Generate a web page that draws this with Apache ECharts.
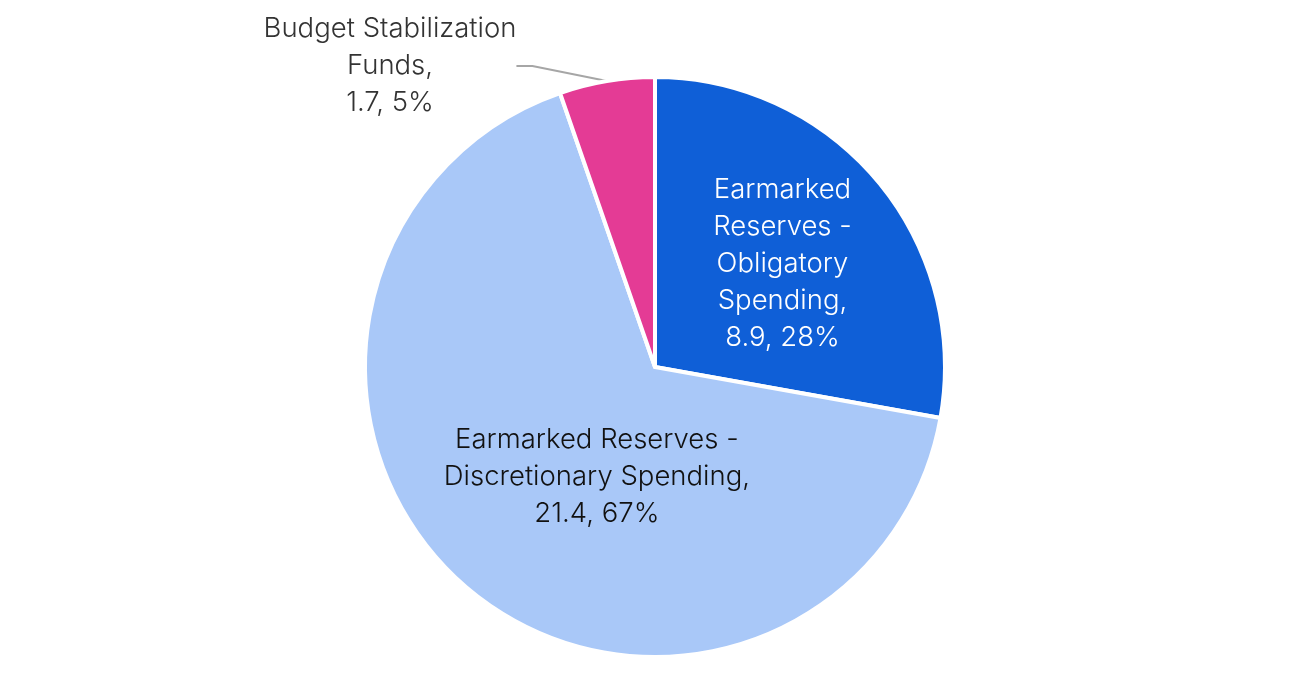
<!DOCTYPE html>
<html>
<head>
<meta charset="utf-8">
<script src="https://cdn.jsdelivr.net/npm/echarts@6/dist/echarts.min.js"></script>
<style>
html,body{margin:0;padding:0;background:#fff;}
#chart{width:1300px;height:681px;}
</style>
</head>
<body>
<div id="chart"></div>
<script>
const categories = [
  'Earmarked\nReserves -\nObligatory\nSpending',
  'Earmarked Reserves -\nDiscretionary Spending',
  'Budget Stabilization\nFunds'
];
const values = [8.9, 21.4, 1.7];
const colors = ['#0F5FD7', '#A9C8F8', '#E43B95'];
const labelColors = ['#ffffff', '#111111', '#333333'];

const chart = echarts.init(document.getElementById('chart'));
const total = values.reduce((a, b) => a + b, 0);
const data = categories.map((c, i) => ({
  name: c,
  value: values[i],
  itemStyle: { color: colors[i] },
  label: {
    color: labelColors[i],
    position: i === 2 ? 'outside' : 'inside'
  }
}));

chart.setOption({
  animation: false,
  series: [{
    type: 'pie',
    center: [655, 367],
    radius: [0, 290],
    startAngle: 90,
    clockwise: true,
    data: data,
    itemStyle: { borderColor: '#ffffff', borderWidth: 4 },
    label: {
      fontFamily: 'Inter, "Liberation Sans", Arial, sans-serif',
      fontWeight: 300,
      fontSize: 27.5,
      lineHeight: 37,
      align: 'center',
      formatter: p => p.name + ',\n' + p.value.toFixed(1) + ', ' + Math.round(p.value / total * 100) + '%'
    },
    labelLine: {
      show: true,
      length: 20,
      length2: 16,
      lineStyle: { color: '#A6A6A6', width: 2 }
    },
    labelLayout: function (params) {
      if (params.dataIndex === 0) return { dx: 14, dy: -8 };
      if (params.dataIndex === 1) return { dx: 38, dy: -3 };
      return { x: 390, y: 66, align: 'center', verticalAlign: 'middle' };
    },
    emphasis: { disabled: true }
  }]
});
</script>
</body>
</html>
